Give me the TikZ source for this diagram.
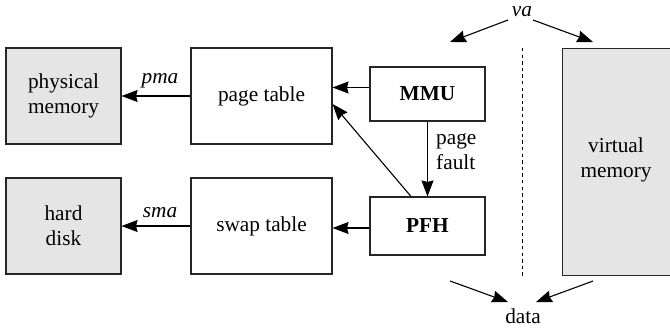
\documentclass[tikz,border=0pt]{standalone}
\usepackage{fontspec}
\setmainfont{Liberation Serif}
\usetikzlibrary{arrows.meta}
\begin{document}
\begin{tikzpicture}[x=1bp,y=-1bp,
  every node/.style={font=\fontsize{21.3bp}{25bp}\selectfont},
  box/.style={draw=black!85, line width=1.1bp, align=center, inner sep=0pt},
  store/.style={box, fill=black!10},
  arr/.style={line width=1.1bp, -{Stealth[length=16bp,width=12bp,inset=1.5bp]}},
  lbl/.style={font=\fontsize{21.3bp}{25bp}\selectfont\itshape, inner sep=0pt}
]
\useasboundingbox (0,0) rectangle (670,329);

% storage and table boxes
\node[store, minimum width=115bp, minimum height=96bp] (pmem) at (63.5,96) {physical\\memory};
\node[box, minimum width=141bp, minimum height=96bp] (ptab) at (261.5,96) {page table};
\node[store, minimum width=115bp, minimum height=96bp] (disk) at (63.5,226) {hard\\disk};
\node[box, minimum width=141bp, minimum height=96bp] (stab) at (261.5,226) {swap table};

% hardware / handler boxes
\node[box, minimum width=115bp, minimum height=54bp, font=\fontsize{21.3bp}{25bp}\selectfont\bfseries] (mmu) at (427.5,94) {MMU};
\node[box, minimum width=115bp, minimum height=58bp, font=\fontsize{21.3bp}{25bp}\selectfont\bfseries] (pfh) at (427.5,226) {PFH};

% virtual memory (runs off the right edge)
\begin{scope}
\clip (0,0) rectangle (670,329);
\node[store, minimum width=110bp, minimum height=227bp, anchor=north west] (vmem) at (561.5,48) {};
\end{scope}
\node[align=center, inner sep=0pt] (vtxt) at (616,160) {virtual\\memory};

% address-space divider
\coordinate (divtop) at (522,48);
\coordinate (divbot) at (522,277);
\draw[line width=1bp, dash pattern=on 3.3bp off 3.3bp] (divtop) -- (divbot);

% translation arrows
\draw[arr] ([yshift=6.5bp]mmu.west) -- ([yshift=6.5bp]mmu.west -| ptab.east);
\draw[arr] (ptab.west) -- (pmem.east);
\draw[arr] ([yshift=-2bp]pfh.west) -- ([yshift=-2bp]pfh.west -| stab.east);
\draw[arr] (stab.west) -- (disk.east);
\draw[arr] ([xshift=-16.5bp]pfh.north) -- ([yshift=-8bp]ptab.east);
\draw[arr] (mmu.south) -- (pfh.north);

% labels on arrows
\node[lbl] (pma) at (160,81) {pma};
\node[lbl] (sma) at (160,213) {sma};
\node[align=left, inner sep=0pt, anchor=west] (pf) at (436,152) {page\\fault};

% va and data
\node[lbl] (va) at (522,12) {va};
\node[inner sep=0pt] (data) at (523,316) {data};
\coordinate (vaL) at (450,42);
\coordinate (vaR) at (593,42);
\coordinate (vaLs) at (508,20);
\coordinate (vaRs) at (533,20);
\coordinate (dL) at (450,281);
\coordinate (dR) at (593,281);
\coordinate (dLe) at (508,302);
\coordinate (dRe) at (536,302);
\draw[arr] (vaLs) -- (vaL);
\draw[arr] (vaRs) -- (vaR);
\draw[arr] (dL) -- (dLe);
\draw[arr] (dR) -- (dRe);
\end{tikzpicture}
\end{document}
